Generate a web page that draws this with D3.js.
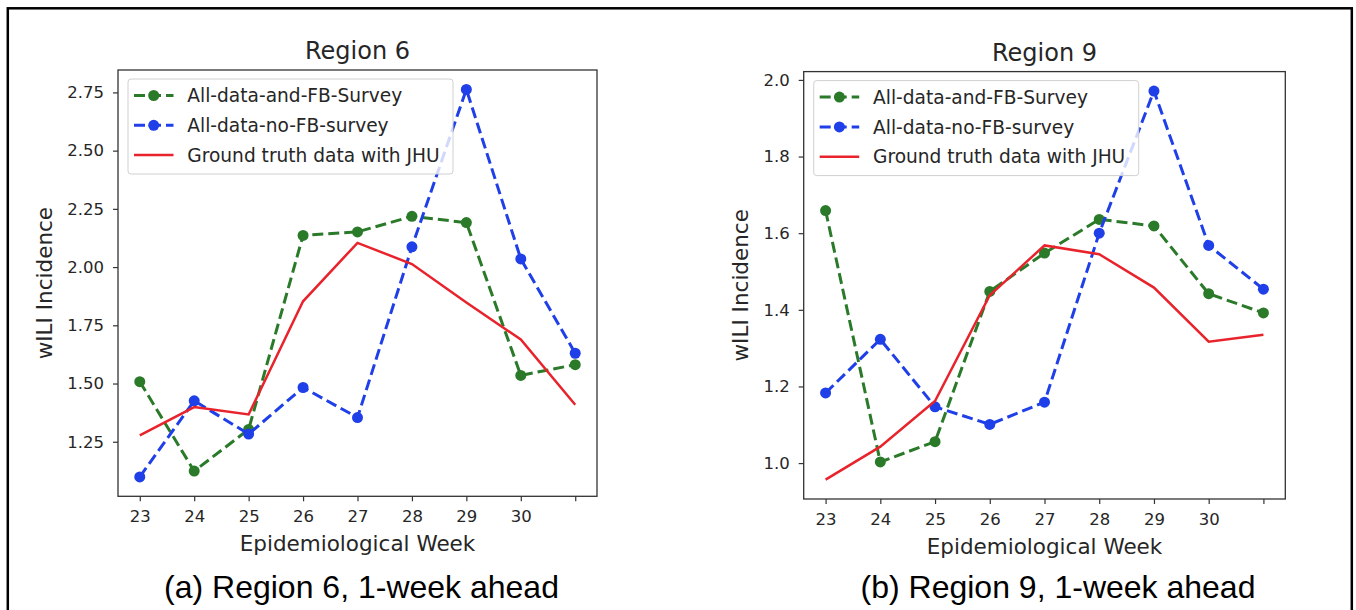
<!DOCTYPE html>
<html>
<head>
<meta charset="utf-8">
<script src="https://cdn.jsdelivr.net/npm/d3@7"></script>
<style>
  body { margin: 0; background: #fff; }
  svg { display: block; }
</style>
</head>
<body>
<script>
// weeks on the x axis (last tick has no label)
let weeks = [23, 24, 25, 26, 27, 28, 29, 30, 31];
let weekLabels = ["23", "24", "25", "26", "27", "28", "29", "30", ""];

let seriesNames = ["All-data-and-FB-Survey", "All-data-no-FB-survey", "Ground truth data with JHU"];

// Region 6
let r6WithFB = [1.508, 1.124, 1.303, 2.136, 2.151, 2.218, 2.191, 1.535, 1.581];
let r6NoFB   = [1.099, 1.426, 1.283, 1.483, 1.354, 2.087, 2.763, 2.035, 1.630];
let r6Truth  = [1.277, 1.399, 1.367, 1.853, 2.104, 2.013, 1.848, 1.689, 1.409];
let r6Ticks  = [1.25, 1.50, 1.75, 2.00, 2.25, 2.50, 2.75];

// Region 9
let r9WithFB = [1.659, 1.003, 1.056, 1.448, 1.548, 1.636, 1.619, 1.442, 1.392];
let r9NoFB   = [1.183, 1.323, 1.147, 1.101, 1.159, 1.600, 1.971, 1.568, 1.454];
let r9Truth  = [0.957, 1.043, 1.162, 1.438, 1.568, 1.545, 1.458, 1.317, 1.335];
let r9Ticks  = [1.0, 1.2, 1.4, 1.6, 1.8, 2.0];

let svgWidth = 1356;
let svgHeight = 610;

let green = "#2a7a2a";
let blue = "#1f3fe8";
let red = "#e8232b";
let textColor = "#262626";
let chartFont = "'DejaVu Sans', sans-serif";

let svg = d3.select("body")
  .append("svg")
  .attr("width", svgWidth)
  .attr("height", svgHeight);

// outer frame
svg.append("rect")
  .attr("x", 7.8)
  .attr("y", 8.3)
  .attr("width", 1344)
  .attr("height", 640)
  .attr("fill", "none")
  .attr("stroke", "#000")
  .attr("stroke-width", 2.5);

let panels = [
  {
    title: "Region 6", caption: "(a) Region 6, 1-week ahead", captionX: 361.5,
    box: { left: 118, right: 597, top: 70, bottom: 496.3 },
    withFB: r6WithFB, noFB: r6NoFB, truth: r6Truth, ticks: r6Ticks, fmt: ".2f"
  },
  {
    title: "Region 9", caption: "(b) Region 9, 1-week ahead", captionX: 1058,
    box: { left: 803.7, right: 1285.3, top: 71.6, bottom: 499 },
    withFB: r9WithFB, noFB: r9NoFB, truth: r9Truth, ticks: r9Ticks, fmt: ".1f"
  }
];

panels.forEach(function(p) {
  let b = p.box;
  let g = svg.append("g");

  // matplotlib style 5% margins
  let xScale = d3.scaleLinear().domain([22.6, 31.4]).range([b.left, b.right]);
  let all = p.withFB.concat(p.noFB, p.truth);
  let lo = d3.min(all), hi = d3.max(all), pad = (hi - lo) * 0.05;
  let yScale = d3.scaleLinear().domain([lo - pad, hi + pad]).range([b.bottom, b.top]);

  // axes
  let xAxis = d3.axisBottom(xScale)
    .tickValues(weeks)
    .tickFormat((d, i) => weekLabels[i])
    .tickSize(5)
    .tickPadding(9)
    .tickSizeOuter(0);
  let yAxis = d3.axisLeft(yScale)
    .tickValues(p.ticks)
    .tickFormat(d3.format(p.fmt))
    .tickSize(5)
    .tickPadding(9)
    .tickSizeOuter(0);

  let xg = g.append("g")
    .attr("transform", `translate(0, ${b.bottom})`)
    .call(xAxis);
  let yg = g.append("g")
    .attr("transform", `translate(${b.left}, 0)`)
    .call(yAxis);

  [xg, yg].forEach(function(ax) {
    ax.select(".domain").remove();
    ax.selectAll(".tick line").attr("stroke", "#333").attr("stroke-width", 1.2);
    ax.selectAll(".tick text")
      .attr("fill", textColor)
      .style("font-family", chartFont)
      .style("font-size", "16.5px");
  });

  // lines
  let line = d3.line()
    .x((d, i) => xScale(weeks[i]))
    .y(d => yScale(d));

  let series = [
    { values: p.withFB, color: green, dashed: true },
    { values: p.noFB, color: blue, dashed: true },
    { values: p.truth, color: red, dashed: false }
  ];

  series.forEach(function(s) {
    g.append("path")
      .datum(s.values)
      .attr("d", line)
      .attr("fill", "none")
      .attr("stroke", s.color)
      .attr("stroke-width", s.dashed ? 3 : 2.5)
      .attr("stroke-dasharray", s.dashed ? "11,5" : null);
    if (s.dashed) {
      g.selectAll(null)
        .data(s.values)
        .enter()
        .append("circle")
        .attr("cx", (d, i) => xScale(weeks[i]))
        .attr("cy", d => yScale(d))
        .attr("r", 5.5)
        .attr("fill", s.color);
    }
  });

  // spines
  g.append("rect")
    .attr("x", b.left)
    .attr("y", b.top)
    .attr("width", b.right - b.left)
    .attr("height", b.bottom - b.top)
    .attr("fill", "none")
    .attr("stroke", "#333")
    .attr("stroke-width", 1.3);

  // legend
  let lx = b.left + 10, ly = b.top + 9;
  let leg = g.append("g");
  leg.append("rect")
    .attr("x", lx)
    .attr("y", ly)
    .attr("width", 325)
    .attr("height", 95)
    .attr("rx", 3)
    .attr("fill", "#fff")
    .attr("fill-opacity", 0.8)
    .attr("stroke", "#d0d0d0")
    .attr("stroke-width", 1);

  series.forEach(function(s, i) {
    let cy = ly + 16.5 + i * 29.8;
    leg.append("line")
      .attr("x1", lx + 6)
      .attr("x2", lx + 45.5)
      .attr("y1", cy)
      .attr("y2", cy)
      .attr("stroke", s.color)
      .attr("stroke-width", s.dashed ? 3 : 2.5)
      .attr("stroke-dasharray", s.dashed ? "11,5" : null);
    if (s.dashed) {
      leg.append("circle")
        .attr("cx", lx + 25.7)
        .attr("cy", cy)
        .attr("r", 5.5)
        .attr("fill", s.color);
    }
    leg.append("text")
      .attr("x", lx + 59.3)
      .attr("y", cy + 6.6)
      .attr("fill", textColor)
      .style("font-family", chartFont)
      .style("font-size", "18.6px")
      .text(seriesNames[i]);
  });

  // title and axis labels
  let cx = (b.left + b.right) / 2;
  g.append("text")
    .attr("x", cx)
    .attr("y", b.top - 11)
    .attr("text-anchor", "middle")
    .attr("fill", textColor)
    .style("font-family", chartFont)
    .style("font-size", "24px")
    .text(p.title);

  g.append("text")
    .attr("x", cx)
    .attr("y", b.bottom + 54.5)
    .attr("text-anchor", "middle")
    .attr("fill", textColor)
    .style("font-family", chartFont)
    .style("font-size", "21.5px")
    .text("Epidemiological Week");

  let tickW = d3.max(yg.selectAll(".tick text").nodes(), n => n.getBBox().width);
  let labX = b.left - 14 - tickW - 21.5;
  g.append("text")
    .attr("transform", `translate(${labX + 6}, ${(b.top + b.bottom) / 2}) rotate(-90)`)
    .attr("text-anchor", "middle")
    .attr("fill", textColor)
    .style("font-family", chartFont)
    .style("font-size", "21.5px")
    .text("wILI Incidence");

  // caption under the panel
  svg.append("text")
    .attr("x", p.captionX)
    .attr("y", 598)
    .attr("text-anchor", "middle")
    .attr("fill", "#000")
    .style("font-family", "'Liberation Sans', Arial, sans-serif")
    .style("font-size", "32px")
    .text(p.caption);
});
</script>
</body>
</html>
